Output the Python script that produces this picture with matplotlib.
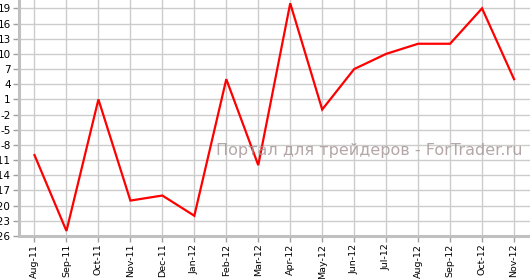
import numpy as np
import matplotlib
matplotlib.use('Agg')
import matplotlib.pyplot as plt

# data
months = ['Aug-11', 'Sep-11', 'Oct-11', 'Nov-11', 'Dec-11', 'Jan-12', 'Feb-12', 'Mar-12',
          'Apr-12', 'May-12', 'Jun-12', 'Jul-12', 'Aug-12', 'Sep-12', 'Oct-12', 'Nov-12']
values = [-10, -25, 1, -19, -18, -22, 5, -12, 20, -1, 7, 10, 12, 12, 19, 5]
yticks = list(range(-26, 20, 3))

fig = plt.figure(figsize=(5.30, 2.79), dpi=100)
ax = fig.add_axes([18.5 / 530, 43 / 279, 1 - 18.5 / 530, 236 / 279])

x = np.arange(len(months))
ax.plot(x, values, color='#ff0000', linewidth=1.6, zorder=3, solid_joinstyle='miter')

ax.set_xlim(-0.5, len(months) - 0.5)
ax.set_ylim(-26, 20.65)
ax.set_xticks(x)
ax.set_xticklabels(months, rotation=90, fontsize=6.8, family='DejaVu Sans')
ax.set_yticks(yticks)
ax.set_yticklabels([str(v) for v in yticks], fontsize=7.5, family='DejaVu Sans')

ax.grid(True, color='#cccccc', linewidth=1.0)
ax.set_axisbelow(True)
for side in ['top', 'right']:
    ax.spines[side].set_visible(False)
for side in ['left', 'bottom']:
    ax.spines[side].set_color('#c0c0c0')
    ax.spines[side].set_linewidth(2.2)
ax.tick_params(axis='both', colors='#a0a0a0', length=4, width=1, labelcolor='black', pad=1.5)

fig.text(216 / 530, 1 - 150 / 279, 'Портал для трейдеров - ForTrader.ru',
         fontsize=11.5, color='#a89898', alpha=0.85, va='center', ha='left',
         family='DejaVu Sans', zorder=5)

fig.savefig('out.png', dpi=100)
